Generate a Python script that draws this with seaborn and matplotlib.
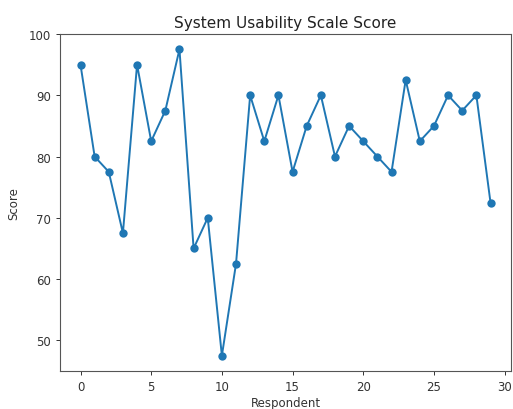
import matplotlib
matplotlib.use("Agg")
import matplotlib.pyplot as plt
import seaborn as sns
import pandas as pd

respondents = list(range(30))
scores = [95, 80, 77.5, 67.5, 95, 82.5, 87.5, 97.5, 65, 70,
          47.5, 62.5, 90, 82.5, 90, 77.5, 85, 90, 80, 85,
          82.5, 80, 77.5, 92.5, 82.5, 85, 90, 87.5, 90, 72.5]

df = pd.DataFrame({"Respondent": respondents, "Score": scores})

plt.rcParams["font.family"] = ["DejaVu Sans"]
fig = plt.figure(figsize=(5.13, 4.10), dpi=100)
ax = fig.add_axes([60 / 513, 1 - 372 / 410, 451 / 513, (372 - 35) / 410])

sns.lineplot(data=df, x="Respondent", y="Score", marker="o", color="#1f77b4",
             linewidth=1.4, markersize=6, markeredgewidth=0, ax=ax)

ax.set_ylim(45, 100)
ax.set_xlim(-1.45, 30.45)
ax.set_xticks([0, 5, 10, 15, 20, 25, 30])
ax.set_yticks([50, 60, 70, 80, 90, 100])
ax.tick_params(labelsize=8.5, colors="#333333", length=3.2, width=0.7)
for s in ax.spines.values():
    s.set_visible(True)
    s.set_color("#555555")
    s.set_linewidth(0.8)
ax.set_title("System Usability Scale Score", fontsize=11, color="#222222", pad=5)
ax.set_xlabel("Respondent", fontsize=8.5, color="#333333", labelpad=2)
ax.set_ylabel("Score", fontsize=8.5, color="#333333", labelpad=6)

fig.savefig("out.png", dpi=100)
